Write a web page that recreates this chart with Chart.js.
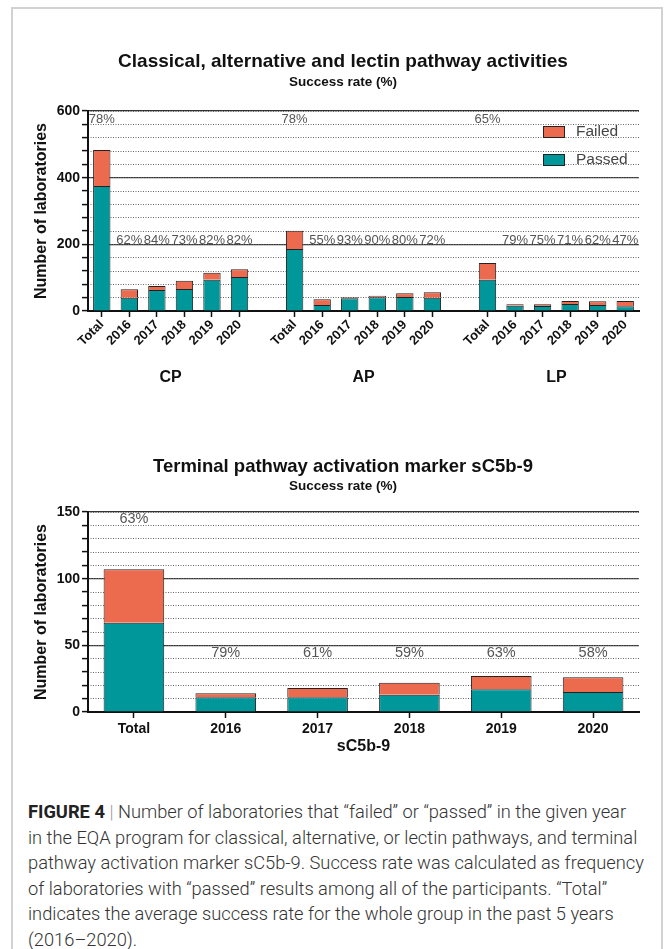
<!DOCTYPE html>
<html>
<head>
<meta charset="utf-8">
<script src="https://cdn.jsdelivr.net/npm/chart.js@4.4.0/dist/chart.umd.min.js"></script>
<style>
  html, body { margin: 0; padding: 0; background: #fff; }
  #page { position: relative; width: 664px; height: 949px; overflow: hidden; }
  #frame { position: absolute; left: 11px; top: 7px; width: 652px; height: 980px; border: 2px solid #d2d2d2; box-sizing: border-box; }
  .box { position: absolute; left: 12px; }
  #box1 { top: 30px; }
  #box2 { top: 440px; }
  #caption {
    position: absolute; left: 28px; top: 799px;
    font-family: Roboto, 'Liberation Sans', sans-serif; font-weight: 300;
    font-size: 18.3px; line-height: 25.5px; color: #333; white-space: nowrap;
  }
  #caption b { font-weight: 700; color: #222; }
  #caption .sep { color: #999; }
</style>
</head>
<body>
<div id="page">
  <div id="frame"></div>
  <div class="box" id="box1"><canvas id="chart1" width="652" height="370"></canvas></div>
  <div class="box" id="box2"><canvas id="chart2" width="652" height="325"></canvas></div>
  <div id="caption"><b>FIGURE 4</b> <span class="sep">|</span> Number of laboratories that “failed” or “passed” in the given year<br>in the EQA program for classical, alternative, or lectin pathways, and terminal<br>pathway activation marker sC5b-9. Success rate was calculated as frequency<br>of laboratories with “passed” results among all of the participants. “Total”<br>indicates the average success rate for the whole group in the past 5 years<br>(2016–2020).</div>
</div>
<script>
// --- data: classical / alternative / lectin pathways ---
const periods = ['Total', '2016', '2017', '2018', '2019', '2020'];
const groups = ['CP', 'AP', 'LP'];
const cpTotal = [483, 65, 75, 91, 115, 125];
const cpPassed = [375, 40, 63, 66, 94, 102];
const apTotal = [241, 35, 41, 46, 53, 56];
const apPassed = [186, 18, 38, 41, 42, 40];
const lpTotal = [144, 20, 20, 30, 29, 30];
const lpPassed = [94, 16, 15, 21, 18, 14];
const cpRate = ['78%', '62%', '84%', '73%', '82%', '82%'];
const apRate = ['78%', '55%', '93%', '90%', '80%', '72%'];
const lpRate = ['65%', '79%', '75%', '71%', '62%', '47%'];
const yTicks1 = [0, 200, 400, 600];

// --- data: terminal pathway sC5b-9 ---
const c5Periods = ['Total', '2016', '2017', '2018', '2019', '2020'];
const c5Total = [107, 14, 18, 22, 27, 26];
const c5Passed = [67, 11, 11, 13, 17, 15];
const c5Rate = ['63%', '79%', '61%', '59%', '63%', '58%'];
const yTicks2 = [0, 50, 100, 150];

const TEAL = '#00979b';
const CORAL = '#ec6a4e';
const INK = '#111';

Chart.defaults.font.family = "'Liberation Sans', Arial, sans-serif";
Chart.defaults.color = INK;

// flatten the three groups with an empty slot between them
const allTotal = [cpTotal, apTotal, lpTotal];
const allPassed = [cpPassed, apPassed, lpPassed];
const allRate = [cpRate, apRate, lpRate];
const labels1 = [], passed1 = [], failed1 = [], rates1 = [];
groups.forEach((g, gi) => {
    if (gi > 0) {
        labels1.push(''); passed1.push(null); failed1.push(null); rates1.push('');
    }
    periods.forEach((p, i) => {
        labels1.push(p);
        passed1.push(allPassed[gi][i]);
        failed1.push(allTotal[gi][i] - allPassed[gi][i]);
        rates1.push(allRate[gi][i]);
    });
});

// success rate text over the bars
const rateText = {
    id: 'rateText',
    afterDatasetsDraw(chart, args, opts) {
        const {ctx} = chart;
        const xs = chart.scales.x, ys = chart.scales.y;
        ctx.save();
        ctx.font = opts.font;
        ctx.fillStyle = '#555';
        ctx.textAlign = 'center';
        ctx.textBaseline = 'middle';
        opts.rates.forEach((r, i) => {
            if (!r) return;
            const level = chart.data.labels[i] === 'Total' ? opts.totalLevel : opts.yearLevel;
            ctx.fillText(r, xs.getPixelForValue(i), ys.getPixelForValue(level));
        });
        ctx.restore();
    }
};

// CP / AP / LP under the rotated year labels
const groupText = {
    id: 'groupText',
    afterDraw(chart) {
        const {ctx} = chart;
        const xs = chart.scales.x;
        ctx.save();
        ctx.font = "bold 16px 'Liberation Sans', Arial, sans-serif";
        ctx.fillStyle = INK;
        ctx.textAlign = 'center';
        ctx.textBaseline = 'middle';
        groups.forEach((g, gi) => {
            const first = gi * (periods.length + 1);
            const last = first + periods.length - 1;
            const x = (xs.getPixelForValue(first) + xs.getPixelForValue(last)) / 2;
            ctx.fillText(g, x, xs.bottom + 27);
        });
        ctx.restore();
    }
};

// legend inside the plot, top right
const boxLegend = {
    id: 'boxLegend',
    afterDraw(chart) {
        const {ctx, chartArea} = chart;
        const items = chart.data.datasets.slice().reverse();
        ctx.save();
        ctx.font = "15.5px 'Liberation Sans', Arial, sans-serif";
        ctx.textBaseline = 'middle';
        items.forEach((ds, i) => {
            const x = chartArea.right - 96;
            const y = chartArea.top + 15 + i * 28;
            ctx.fillStyle = ds.backgroundColor;
            ctx.fillRect(x, y, 21, 11);
            ctx.strokeStyle = '#222';
            ctx.lineWidth = 1;
            ctx.strokeRect(x + 0.5, y + 0.5, 21, 11);
            ctx.fillStyle = '#444';
            ctx.fillText(ds.label, x + 33, y + 6);
        });
        ctx.restore();
    }
};

// left padding of 35 keeps the titles centred like the original; the axis
// title is pulled back left with a negative padding
function yAxes(max, step, majors) {
    return {
        y: {
            stacked: true, min: 0, max: max,
            ticks: {
                stepSize: step, autoSkip: false, padding: 2, color: INK,
                font: { size: 14, weight: 'bold' },
                callback: v => majors.includes(v) ? v : ''
            },
            grid: {
                color: c => (majors.includes(c.tick.value) && c.tick.value > 0) ? '#333' : 'rgba(0,0,0,0)',
                lineWidth: 1.2, tickColor: INK, tickLength: 6, tickWidth: 1.5
            },
            border: { color: INK, width: 2 },
            title: {
                display: true, text: 'Number of laboratories', color: INK,
                font: { size: 16, weight: 'bold' }, padding: { top: -14.6, bottom: 0 }
            },
            afterFit: s => { s.width = 41; }
        },
        yMinor: {
            position: 'right', min: 0, max: max,
            ticks: { display: false, stepSize: step },
            grid: { color: '#666', lineWidth: 1, drawTicks: false },
            border: { display: false, dash: [1, 1.5] },
            afterFit: s => { s.width = 0; }
        }
    };
}

function barSets(passed, failed, pct) {
    return [
        { label: 'Passed', data: passed, yAxisID: 'y', backgroundColor: TEAL, borderColor: '#222',
          borderWidth: 1, barPercentage: pct, categoryPercentage: 1 },
        { label: 'Failed', data: failed, yAxisID: 'y', backgroundColor: CORAL, borderColor: '#222',
          borderWidth: 1, barPercentage: pct, categoryPercentage: 1 }
    ];
}

const scales1 = yAxes(600, 40, yTicks1);
scales1.x = {
    stacked: true, offset: true,
    grid: {
        drawOnChartArea: false, offset: false, tickLength: 6, tickWidth: 1.5,
        tickColor: c => labels1[c.index] ? INK : 'rgba(0,0,0,0)'
    },
    border: { color: INK, width: 2 },
    ticks: { autoSkip: false, minRotation: 45, maxRotation: 45, padding: 0, color: INK,
             font: { size: 13, weight: 'bold' } },
    afterFit: s => { s.height = 40; }
};

new Chart(document.getElementById('chart1'), {
    type: 'bar',
    data: { labels: labels1, datasets: barSets(passed1, failed1, 0.63) },
    options: {
        responsive: false, animation: false,
        layout: { padding: { left: 35, right: 25, top: 0, bottom: 49 } },
        scales: scales1,
        plugins: {
            legend: { display: false },
            tooltip: { enabled: false },
            title: { display: true, text: 'Classical, alternative and lectin pathway activities', color: INK,
                     font: { size: 19, weight: 'bold' }, padding: { top: 20.6, bottom: 0 } },
            subtitle: { display: true, text: 'Success rate (%)', color: INK,
                        font: { size: 13.5, weight: 'bold' }, padding: { top: 0.5, bottom: 20.9 } },
            rateText: { rates: rates1, totalLevel: 576, yearLevel: 213,
                        font: "13px 'Liberation Sans', Arial, sans-serif" }
        }
    },
    plugins: [rateText, groupText, boxLegend]
});

const scales2 = yAxes(150, 10, yTicks2);
scales2.x = {
    stacked: true, offset: true,
    grid: { drawOnChartArea: false, offset: false, tickLength: 6, tickWidth: 1.5, tickColor: INK },
    border: { color: INK, width: 2 },
    ticks: { autoSkip: false, maxRotation: 0, padding: 3, color: INK, font: { size: 14, weight: 'bold' } },
    title: { display: true, text: 'sC5b-9', color: INK, font: { size: 16, weight: 'bold' },
             padding: { top: 0, bottom: 8.4 } },
    afterFit: s => { s.height = 53; }
};

new Chart(document.getElementById('chart2'), {
    type: 'bar',
    data: {
        labels: c5Periods,
        datasets: barSets(c5Passed, c5Total.map((t, i) => t - c5Passed[i]), 0.66)
    },
    options: {
        responsive: false, animation: false,
        layout: { padding: { left: 35, right: 25, top: 0, bottom: 0 } },
        scales: scales2,
        plugins: {
            legend: { display: false },
            tooltip: { enabled: false },
            title: { display: true, text: 'Terminal pathway activation marker sC5b-9', color: INK,
                     font: { size: 18.5, weight: 'bold' }, padding: { top: 15.9, bottom: 0 } },
            subtitle: { display: true, text: 'Success rate (%)', color: INK,
                        font: { size: 13.5, weight: 'bold' }, padding: { top: 0, bottom: 17.7 } },
            rateText: { rates: c5Rate, totalLevel: 145, yearLevel: 44,
                        font: "14.5px 'Liberation Sans', Arial, sans-serif" }
        }
    },
    plugins: [rateText]
});
</script>
</body>
</html>
